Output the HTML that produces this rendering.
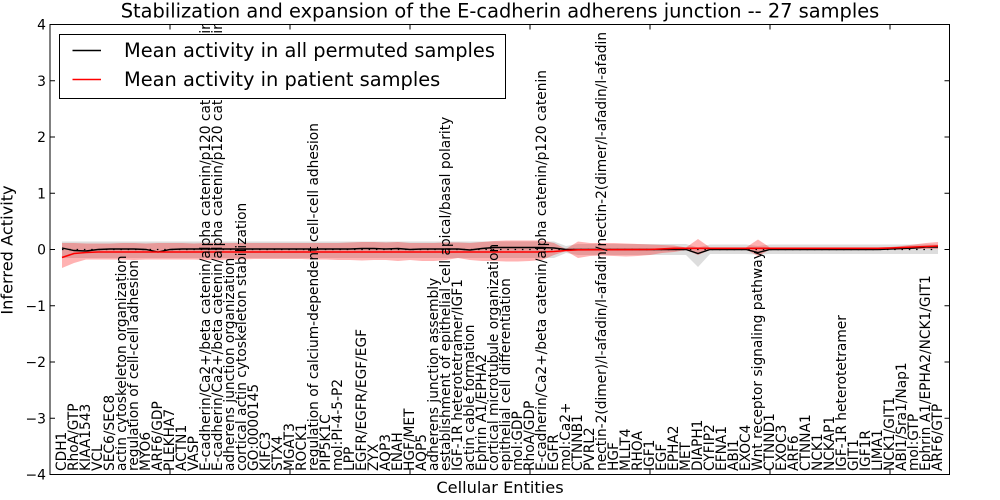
<!DOCTYPE html>
<html>
<head>
<meta charset="utf-8">
<style>
  html, body { margin: 0; padding: 0; background: #ffffff; }
  svg { display: block; }
  text { font-family: "DejaVu Sans", "Liberation Sans", sans-serif; fill: #000; }
</style>
</head>
<body>
<svg width="1000" height="500" viewBox="0 0 1000 500" xmlns="http://www.w3.org/2000/svg">
  <rect x="0" y="0" width="1000" height="500" fill="#ffffff"/>

  <!-- gray band (permuted) -->
  <polygon fill="#808080" fill-opacity="0.27"
    points="62,241.5 554,241.5 566,246 578,244 686,244 698,247.5 710,244.5 746,244.5 758,246 770,244.5 938,244.5 938,254 770,254 758,254.5 746,254 710,254 698,267 686,255 578,255 566,253 554,258 62,258"/>

  <!-- red band (patient) -->
  <polygon fill="#ff0000" fill-opacity="0.3"
    points="62,243 74,243 86,243.5 98,243.5 110,243.5 122,243 134,243 146,243.5 158,243 170,243 182,243 194,243.5 206,243 218,243 230,243 242,243 254,243 266,243 278,243 290,243 302,243 314,243 326,243 338,243 350,242.5 362,242 374,242 386,242.5 398,242 410,243 422,243 434,243 446,242.5 458,242.5 470,243 482,242 494,241 506,240.5 518,240.5 530,240.5 542,240.5 554,243 566,249 578,241.5 590,243 602,243 614,243 626,243.5 638,244 650,244.5 662,245 674,245.5 686,247.5 698,239 710,247.5 722,247.5 734,247.5 746,247.5 758,239.5 770,247.5 782,247.5 794,247.5 806,247.5 818,247.5 830,247.5 842,247.5 854,247.5 866,247.5 878,247.5 890,247 902,246 914,244.5 926,243 938,242 938,249 926,249 914,249 902,249.5 890,249.5 878,249.5 866,249.5 854,249.5 842,249.5 830,249.5 818,249.5 806,249.5 794,249.5 782,249.5 770,249.5 758,256 746,249.5 734,249.5 722,249.5 710,250 698,255 686,250 674,252 662,253 650,255 638,256 626,256.5 614,256 602,255.5 590,256 578,258 566,251 554,255 542,260 530,261 518,261.5 506,261.5 494,261 482,261 470,260 458,258 446,260 434,261 422,261 410,260 398,261 386,260 374,260 362,260.5 350,260 338,260 326,259.5 314,259.5 302,259 290,259 278,259 266,259 254,259 242,259.5 230,259.5 218,260 206,260 194,259.5 182,259.5 170,259.5 158,259.5 146,259.5 134,260 122,259.5 110,259.5 98,259.5 86,259.5 74,263 62,268"/>

  <!-- dotted zero line -->
  <line x1="62" y1="249.5" x2="938" y2="249.5" stroke="#000" stroke-width="1.2" stroke-dasharray="1.5 5.8"/>

  <!-- black mean line -->
  <polyline fill="none" stroke="#000" stroke-width="1.4"
    points="62,248 74,250.5 86,251 98,249.5 110,249 122,249 134,249 146,249.5 158,252 170,249.5 182,249 194,249 206,249 218,249 230,249 242,249 254,249 266,249 278,249 290,249 302,249 314,249 326,249 338,249 350,249 362,248.5 374,248.5 386,249 398,248.5 410,249.5 422,249 434,249 446,249 458,249 470,250 482,248.5 494,247.5 506,247.5 518,247.5 530,247.5 542,247.5 554,248 566,249.5 578,249.5 686,249.5 698,253.5 710,249.5 746,249.5 758,252.5 770,249.5 878,249.5 890,249 902,248.5 914,248 926,247 938,247"/>

  <!-- red mean line -->
  <polyline fill="none" stroke="#ff0000" stroke-width="1.6"
    points="62,257.5 74,253.5 86,252.5 98,252 542,252 554,251.5 566,250.5 578,249.8 650,249.5 674,248.3 878,248.3 890,248 902,247.5 914,247 926,246.5 938,246"/>

  <!-- x labels (rotated) -->
  <g font-size="13.75">
    <text transform="translate(66,471) rotate(-90)">CDH1</text>
    <text transform="translate(78,471) rotate(-90)">RhoA/GTP</text>
    <text transform="translate(90,471) rotate(-90)">KIAA1543</text>
    <text transform="translate(102,471) rotate(-90)">VCL</text>
    <text transform="translate(114,471) rotate(-90)">SEC6/SEC8</text>
    <text transform="translate(126,471) rotate(-90)">actin cytoskeleton organization</text>
    <text transform="translate(138,471) rotate(-90)">regulation of cell-cell adhesion</text>
    <text transform="translate(150,471) rotate(-90)">MYO6</text>
    <text transform="translate(162,471) rotate(-90)">ARF6/GDP</text>
    <text transform="translate(174,471) rotate(-90)">PLEKHA7</text>
    <text transform="translate(186,471) rotate(-90)">ACTN1</text>
    <text transform="translate(198,471) rotate(-90)">VASP</text>
    <text transform="translate(210,471) rotate(-90)">E-cadherin/Ca2+/beta catenin/alpha catenin/p120 catenin/Nectin 2/l-afadin</text>
    <text transform="translate(222,471) rotate(-90)">E-cadherin/Ca2+/beta catenin/alpha catenin/p120 catenin/Nectin 1/l-afadin</text>
    <text transform="translate(234,471) rotate(-90)">adherens junction organization</text>
    <text transform="translate(246,471) rotate(-90)">cortical actin cytoskeleton stabilization</text>
    <text transform="translate(258,471) rotate(-90)">GO:0000145</text>
    <text transform="translate(270,471) rotate(-90)">KIFC3</text>
    <text transform="translate(282,471) rotate(-90)">STX4</text>
    <text transform="translate(294,471) rotate(-90)">MGAT3</text>
    <text transform="translate(306,471) rotate(-90)">ROCK1</text>
    <text transform="translate(318,471) rotate(-90)">regulation of calcium-dependent cell-cell adhesion</text>
    <text transform="translate(330,471) rotate(-90)">PIP5K1C</text>
    <text transform="translate(342,471) rotate(-90)">mol:PI-4-5-P2</text>
    <text transform="translate(354,471) rotate(-90)">LPP</text>
    <text transform="translate(366,471) rotate(-90)">EGFR/EGFR/EGF/EGF</text>
    <text transform="translate(378,471) rotate(-90)">ZYX</text>
    <text transform="translate(390,471) rotate(-90)">AQP3</text>
    <text transform="translate(402,471) rotate(-90)">ENAH</text>
    <text transform="translate(414,471) rotate(-90)">HGF/MET</text>
    <text transform="translate(426,471) rotate(-90)">AQP5</text>
    <text transform="translate(438,471) rotate(-90)">adherens junction assembly</text>
    <text transform="translate(450,471) rotate(-90)">establishment of epithelial cell apical/basal polarity</text>
    <text transform="translate(462,471) rotate(-90)">IGF-1R heterotetramer/IGF1</text>
    <text transform="translate(474,471) rotate(-90)">actin cable formation</text>
    <text transform="translate(486,471) rotate(-90)">Ephrin A1/EPHA2</text>
    <text transform="translate(498,471) rotate(-90)">cortical microtubule organization</text>
    <text transform="translate(510,471) rotate(-90)">epithelial cell differentiation</text>
    <text transform="translate(522,471) rotate(-90)">mol:GDP</text>
    <text transform="translate(534,471) rotate(-90)">RhoA/GDP</text>
    <text transform="translate(546,471) rotate(-90)">E-cadherin/Ca2+/beta catenin/alpha catenin/p120 catenin</text>
    <text transform="translate(558,471) rotate(-90)">EGFR</text>
    <text transform="translate(570,471) rotate(-90)">mol:Ca2+</text>
    <text transform="translate(582,471) rotate(-90)">CTNNB1</text>
    <text transform="translate(594,471) rotate(-90)">PVRL2</text>
    <text transform="translate(606,471) rotate(-90)">nectin-2(dimer)/l-afadin/l-afadin/nectin-2(dimer/l-afadin/l-afadin</text>
    <text transform="translate(618,471) rotate(-90)">HGF</text>
    <text transform="translate(630,471) rotate(-90)">MLLT4</text>
    <text transform="translate(642,471) rotate(-90)">RHOA</text>
    <text transform="translate(654,471) rotate(-90)">IGF1</text>
    <text transform="translate(666,471) rotate(-90)">EGF</text>
    <text transform="translate(678,471) rotate(-90)">EPHA2</text>
    <text transform="translate(690,471) rotate(-90)">MET</text>
    <text transform="translate(702,471) rotate(-90)">DIAPH1</text>
    <text transform="translate(714,471) rotate(-90)">CYFIP2</text>
    <text transform="translate(726,471) rotate(-90)">EFNA1</text>
    <text transform="translate(738,471) rotate(-90)">ABI1</text>
    <text transform="translate(750,471) rotate(-90)">EXOC4</text>
    <text transform="translate(762,471) rotate(-90)">Wnt receptor signaling pathway</text>
    <text transform="translate(774,471) rotate(-90)">CTNND1</text>
    <text transform="translate(786,471) rotate(-90)">EXOC3</text>
    <text transform="translate(798,471) rotate(-90)">ARF6</text>
    <text transform="translate(810,471) rotate(-90)">CTNNA1</text>
    <text transform="translate(822,471) rotate(-90)">NCK1</text>
    <text transform="translate(834,471) rotate(-90)">NCKAP1</text>
    <text transform="translate(846,471) rotate(-90)">IGF-1R heterotetramer</text>
    <text transform="translate(858,471) rotate(-90)">GIT1</text>
    <text transform="translate(870,471) rotate(-90)">IGF1R</text>
    <text transform="translate(882,471) rotate(-90)">LIMA1</text>
    <text transform="translate(894,471) rotate(-90)">NCK1/GIT1</text>
    <text transform="translate(906,471) rotate(-90)">ABI1/Sra1/Nap1</text>
    <text transform="translate(918,471) rotate(-90)">mol:GTP</text>
    <text transform="translate(930,471) rotate(-90)">Ephrin A1/EPHA2/NCK1/GIT1</text>
    <text transform="translate(942,471) rotate(-90)">ARF6/GTP</text>
  </g>

  <!-- mask label overflow above axes -->
  <rect x="190" y="0" width="45" height="24" fill="#ffffff"/>

  <!-- axes frame -->
  <rect x="50" y="24.5" width="899.5" height="450" fill="none" stroke="#000" stroke-width="1"/>

  <!-- ticks -->
  <g stroke="#000" stroke-width="1">
    <line x1="50" y1="80.75" x2="55" y2="80.75"/><line x1="949.5" y1="80.75" x2="944.5" y2="80.75"/>
    <line x1="50" y1="137" x2="55" y2="137"/><line x1="949.5" y1="137" x2="944.5" y2="137"/>
    <line x1="50" y1="193.25" x2="55" y2="193.25"/><line x1="949.5" y1="193.25" x2="944.5" y2="193.25"/>
    <line x1="50" y1="249.5" x2="55" y2="249.5"/><line x1="949.5" y1="249.5" x2="944.5" y2="249.5"/>
    <line x1="50" y1="305.75" x2="55" y2="305.75"/><line x1="949.5" y1="305.75" x2="944.5" y2="305.75"/>
    <line x1="50" y1="362" x2="55" y2="362"/><line x1="949.5" y1="362" x2="944.5" y2="362"/>
    <line x1="50" y1="418.25" x2="55" y2="418.25"/><line x1="949.5" y1="418.25" x2="944.5" y2="418.25"/>
    <line x1="170" y1="24.5" x2="170" y2="29.5"/><line x1="170" y1="474.5" x2="170" y2="469.5"/>
    <line x1="290" y1="24.5" x2="290" y2="29.5"/><line x1="290" y1="474.5" x2="290" y2="469.5"/>
    <line x1="410" y1="24.5" x2="410" y2="29.5"/><line x1="410" y1="474.5" x2="410" y2="469.5"/>
    <line x1="530" y1="24.5" x2="530" y2="29.5"/><line x1="530" y1="474.5" x2="530" y2="469.5"/>
    <line x1="650" y1="24.5" x2="650" y2="29.5"/><line x1="650" y1="474.5" x2="650" y2="469.5"/>
    <line x1="770" y1="24.5" x2="770" y2="29.5"/><line x1="770" y1="474.5" x2="770" y2="469.5"/>
    <line x1="890" y1="24.5" x2="890" y2="29.5"/><line x1="890" y1="474.5" x2="890" y2="469.5"/>
  </g>

  <!-- y tick labels -->
  <g font-size="13.9" text-anchor="end">
    <text x="46" y="29.5">4</text>
    <text x="46" y="85.75">3</text>
    <text x="46" y="142">2</text>
    <text x="46" y="198.25">1</text>
    <text x="46" y="254.5">0</text>
    <text x="46" y="310.75">−1</text>
    <text x="46" y="367">−2</text>
    <text x="46" y="423.25">−3</text>
    <text x="46" y="479.5">−4</text>
  </g>

  <!-- axis labels -->
  <text transform="translate(12.5,250) rotate(-90)" text-anchor="middle" font-size="16.2">Inferred Activity</text>
  <text x="500" y="493" text-anchor="middle" font-size="16.2">Cellular Entities</text>

  <!-- legend -->
  <rect x="59.5" y="34.5" width="446" height="64" fill="#ffffff" stroke="#000" stroke-width="1"/>
  <line x1="72.5" y1="50.5" x2="101" y2="50.5" stroke="#000" stroke-width="1.4"/>
  <line x1="72.5" y1="79.5" x2="101" y2="79.5" stroke="#ff0000" stroke-width="1.4"/>
  <text x="124" y="57" font-size="19.4">Mean activity in all permuted samples</text>
  <text x="124" y="86" font-size="19.4">Mean activity in patient samples</text>

  <!-- title -->
  <text x="500" y="17.5" text-anchor="middle" font-size="19.4">Stabilization and expansion of the E-cadherin adherens junction -- 27 samples</text>
</svg>
</body>
</html>
